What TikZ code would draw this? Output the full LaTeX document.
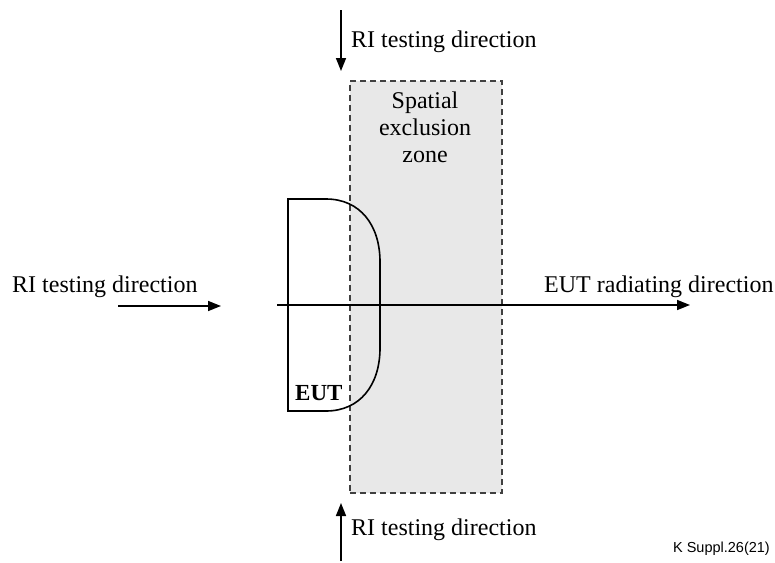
\documentclass[tikz,border=0pt]{standalone}
\usepackage{fontspec}
\setmainfont{Liberation Serif}
\newfontfamily\labelsans{Liberation Sans}
\usetikzlibrary{arrows.meta}
\begin{document}
\begin{tikzpicture}[x=1pt,y=-1pt,
  txt/.style={font=\fontsize{24}{27}\selectfont, inner sep=0pt},
  dirarrow/.style={line width=1.6pt, -{Triangle[length=13pt,width=10pt]}},
  outline/.style={line width=1.6pt},
  zonebox/.style={draw=black!75, fill=black!9, dash pattern=on 6pt off 4pt, line width=1.5pt}]
  \useasboundingbox (0,0) rectangle (775,562);

  % spatial exclusion zone
  \node[zonebox, minimum width=152pt, minimum height=412pt, inner sep=0pt, anchor=north west] (zone) at (349,80) {};
  \node[txt, align=center, anchor=north] (zlabel) at (425,92) {Spatial\\exclusion\\zone};

  % EUT outline
  \draw[outline] (288,199) -- (326,199)
    .. controls (360,199) and (380,225) .. (380,262)
    -- (380,348)
    .. controls (380,385) and (360,411) .. (326,411)
    -- (288,411) -- cycle;
  \node[txt, font=\fontsize{23}{27}\bfseries, anchor=base west] (eut) at (295,400) {EUT};

  % radiating axis
  \coordinate (axs) at (277,305);
  \coordinate (axe) at (690,305);
  \draw[dirarrow] (axs) -- (axe);
  \node[txt, anchor=base west] (radlab) at (544,292) {EUT radiating direction};

  % RI testing directions
  \coordinate (ls) at (118,306);
  \coordinate (le) at (221,306);
  \draw[dirarrow] (ls) -- (le);
  \node[txt, anchor=base west] (llab) at (12,292) {RI testing direction};

  \coordinate (ts) at (341,10);
  \coordinate (te) at (341,71);
  \draw[dirarrow] (ts) -- (te);
  \node[txt, anchor=base west] (tlab) at (351,47) {RI testing direction};

  \coordinate (bs) at (341,561);
  \coordinate (be) at (341,503);
  \draw[dirarrow] (bs) -- (be);
  \node[txt, anchor=base west] (blab) at (351,535) {RI testing direction};

  % figure reference
  \node[inner sep=0pt, anchor=base east, font=\labelsans\fontsize{14.5}{17}\selectfont] (ref) at (770,552) {K Suppl.26(21)};
\end{tikzpicture}
\end{document}
